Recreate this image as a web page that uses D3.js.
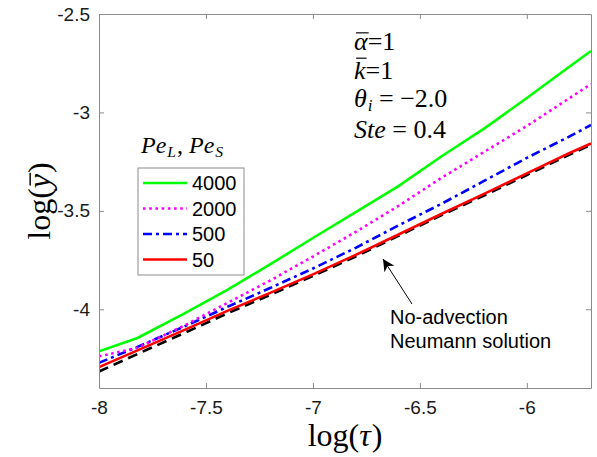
<!DOCTYPE html>
<html>
<head>
<meta charset="utf-8">
<script src="https://cdn.jsdelivr.net/npm/d3@7"></script>
<style>
  body { margin: 0; background: #fff; }
  svg { display: block; }
  .tick text { font-family: "Liberation Sans", Arial, sans-serif; }
  .math { font-family: "Liberation Serif", "Times New Roman", serif; white-space: pre; }
</style>
</head>
<body>
<script>
// Sample points along log(tau)
const logTau = [-8, -7.82, -7.6, -7.4, -7.2, -7.0, -6.8, -6.6, -6.4, -6.2, -6.0, -5.8, -5.7];

// log(y) for each Pe case
const pe4000 = [-4.214, -4.146, -4.021, -3.902, -3.772, -3.638, -3.506, -3.374, -3.224, -3.082, -2.927, -2.767, -2.688];
const pe2000 = [-4.239, -4.196, -4.082, -3.968, -3.854, -3.732, -3.607, -3.475, -3.333, -3.201, -3.069, -2.927, -2.856];
const pe500  = [-4.272, -4.191, -4.087, -3.988, -3.892, -3.793, -3.688, -3.574, -3.465, -3.348, -3.231, -3.122, -3.064];
const pe50   = [-4.294, -4.209, -4.105, -4.008, -3.917, -3.823, -3.724, -3.620, -3.516, -3.414, -3.310, -3.206, -3.158];
// No-advection Neumann solution
const neumann = [-4.316, -4.227, -4.120, -4.021, -3.927, -3.831, -3.732, -3.627, -3.523, -3.422, -3.318, -3.214, -3.165];

const legendLabels = ["4000", "2000", "500", "50"];
const xTicks = [-8, -7.5, -7, -6.5, -6];
const yTicks = [-4, -3.5, -3, -2.5];

// Layout
const width = 597;
const height = 457;
const margin = {top: 14, right: 6, bottom: 69, left: 99};
const axis_color = "#8c8c8c";
const tick_size = 5;
const line_width = 2.6;
const math_size = 26;

const series = [
  {values: pe4000, color: "#00ff00", dash: null},
  {values: pe2000, color: "#ff00ff", dash: "2.6,3.6"},
  {values: pe500, color: "#0000ff", dash: "9,4,3,4"},
  {values: pe50, color: "#ff0000", dash: null},
];

const x = d3.scaleLinear().domain([-8, -5.7]).range([margin.left, width - margin.right]);
const y = d3.scaleLinear().domain([-4.4, -2.5]).range([height - margin.bottom, margin.top]);

const svg = d3.select("body").append("svg")
    .attr("width", width)
    .attr("height", height)
    .attr("viewBox", [0, 0, width, height]);

svg.append("clipPath").attr("id", "plot")
  .append("rect")
    .attr("x", margin.left).attr("y", margin.top)
    .attr("width", x.range()[1] - margin.left)
    .attr("height", y.range()[0] - margin.top);

const line = d3.line()
    .x((d, i) => x(logTau[i]))
    .y(d => y(d));

const plot = svg.append("g").attr("clip-path", "url(#plot)");

// Neumann solution drawn first, the coloured curves on top
plot.append("path")
    .attr("d", line(neumann))
    .attr("fill", "none")
    .attr("stroke", "black")
    .attr("stroke-width", line_width)
    .attr("stroke-dasharray", "10,6");

plot.selectAll(".curve")
  .data(series.slice().reverse())
  .join("path")
    .attr("class", "curve")
    .attr("d", s => line(s.values))
    .attr("fill", "none")
    .attr("stroke", s => s.color)
    .attr("stroke-width", line_width)
    .attr("stroke-dasharray", s => s.dash);

// Axes: bottom/left with labels, top/right ticks only, all ticks inward
const fmt = d => d3.format("")(d).replace("\u2212", "-");

svg.append("g")
    .attr("transform", `translate(0,${y.range()[0]})`)
    .call(d3.axisBottom(x).tickValues(xTicks).tickSizeInner(-tick_size).tickSizeOuter(0).tickPadding(10).tickFormat(fmt))
    .call(g => g.selectAll("text").attr("font-size", 19).attr("fill", "#1a1a1a").attr("dy", "0.85em"));

svg.append("g")
    .attr("transform", `translate(0,${margin.top})`)
    .call(d3.axisTop(x).tickValues(xTicks).tickSizeInner(-tick_size).tickSizeOuter(0).tickFormat(""));

svg.append("g")
    .attr("transform", `translate(${margin.left},0)`)
    .call(d3.axisLeft(y).tickValues(yTicks).tickSizeInner(-tick_size).tickSizeOuter(0).tickPadding(9).tickFormat(fmt))
    .call(g => g.selectAll("text").attr("font-size", 19).attr("fill", "#1a1a1a"));

svg.append("g")
    .attr("transform", `translate(${x.range()[1]},0)`)
    .call(d3.axisRight(y).tickValues(yTicks).tickSizeInner(-tick_size).tickSizeOuter(0).tickFormat(""));

svg.selectAll(".domain, .tick line").attr("stroke", axis_color);

// Write a run of math pieces left to right; pieces may be italic, subscripted or barred
function mathText(parent, x0, y0, size, pieces) {
  let cx = x0;
  for (const p of pieces) {
    const fs = p.sub ? size * 0.65 : size;
    const t = parent.append("text").attr("class", "math")
        .attr("x", cx).attr("y", y0 + (p.sub ? size * 0.15 : 0))
        .attr("font-size", fs)
        .attr("font-style", p.it ? "italic" : null)
        .text(p.t);
    const w = t.node().getComputedTextLength();
    if (p.bar) {
      parent.append("line")
          .attr("x1", cx + (p.it ? size * 0.08 : 0)).attr("x2", cx + w + (p.it ? size * 0.04 : 0))
          .attr("y1", y0 - size * p.bar).attr("y2", y0 - size * p.bar)
          .attr("stroke", "black").attr("stroke-width", size * 0.045);
    }
    cx += w + (p.gap || 0);
  }
  return cx - x0;
}

// Axis titles
const xt = svg.append("g");
const xtw = mathText(xt, 0, 446, 32, [{t: "log("}, {t: "τ", it: true, gap: 1}, {t: ")"}]);
xt.attr("transform", `translate(${(x.range()[0] + x.range()[1]) / 2 - xtw / 2},0)`);

const yt = svg.append("g");
const ytw = mathText(yt, 0, 0, 32, [{t: "log("}, {t: "y", it: true, bar: 0.62, gap: 1}, {t: ")"}]);
yt.attr("transform", `translate(50,${(y.range()[0] + y.range()[1]) / 2 + ytw / 2}) rotate(-90)`);

// Parameter annotations
const ann = svg.append("g");
mathText(ann, 354, 50, math_size, [{t: "α", it: true, bar: 0.66}, {t: "=1"}]);
mathText(ann, 354, 79, math_size, [{t: "k", it: true, bar: 0.8}, {t: "=1"}]);
mathText(ann, 354, 107, math_size, [{t: "θ", it: true, gap: 1}, {t: "i", it: true, sub: true}, {t: " = −2.0"}]);
mathText(ann, 354, 138, math_size, [{t: "Ste", it: true}, {t: " = 0.4"}]);

// Legend
const legend = svg.append("g");
mathText(legend, 141, 153, 24, [
  {t: "Pe", it: true, gap: 1}, {t: "L", it: true, sub: true, gap: 1}, {t: ", "},
  {t: "Pe", it: true, gap: 1}, {t: "S", it: true, sub: true}
]);

legend.append("rect")
    .attr("x", 138).attr("y", 168)
    .attr("width", 106).attr("height", 107)
    .attr("fill", "white")
    .attr("stroke", axis_color);

const row = legend.selectAll(".row")
  .data(series)
  .join("g")
    .attr("transform", (d, i) => `translate(0,${183 + i * 25.5})`);
row.append("line")
    .attr("x1", 143).attr("x2", 187)
    .attr("stroke", s => s.color)
    .attr("stroke-width", line_width)
    .attr("stroke-dasharray", s => s.dash);
row.append("text")
    .attr("x", 192).attr("dy", "0.35em")
    .attr("font-family", "Liberation Sans, Arial, sans-serif")
    .attr("font-size", 20)
    .text((d, i) => legendLabels[i]);

// Arrow pointing at the Neumann curve
svg.append("defs").append("marker")
    .attr("id", "head")
    .attr("viewBox", "0 0 10 10")
    .attr("refX", 10).attr("refY", 5)
    .attr("markerWidth", 12).attr("markerHeight", 12)
    .attr("markerUnits", "userSpaceOnUse")
    .attr("orient", "auto")
  .append("path")
    .attr("d", "M0,0 L10,5 L0,10 L3,5 Z")
    .attr("fill", "black");

svg.append("line")
    .attr("x1", 412).attr("y1", 304)
    .attr("x2", 383).attr("y2", 259)
    .attr("stroke", "black")
    .attr("stroke-width", 1)
    .attr("marker-end", "url(#head)");

const note = svg.append("g")
    .attr("font-family", "Liberation Sans, Arial, sans-serif")
    .attr("font-size", 20);
note.append("text").attr("x", 390).attr("y", 324).text("No-advection");
note.append("text").attr("x", 390).attr("y", 348).text("Neumann solution");
</script>
</body>
</html>
